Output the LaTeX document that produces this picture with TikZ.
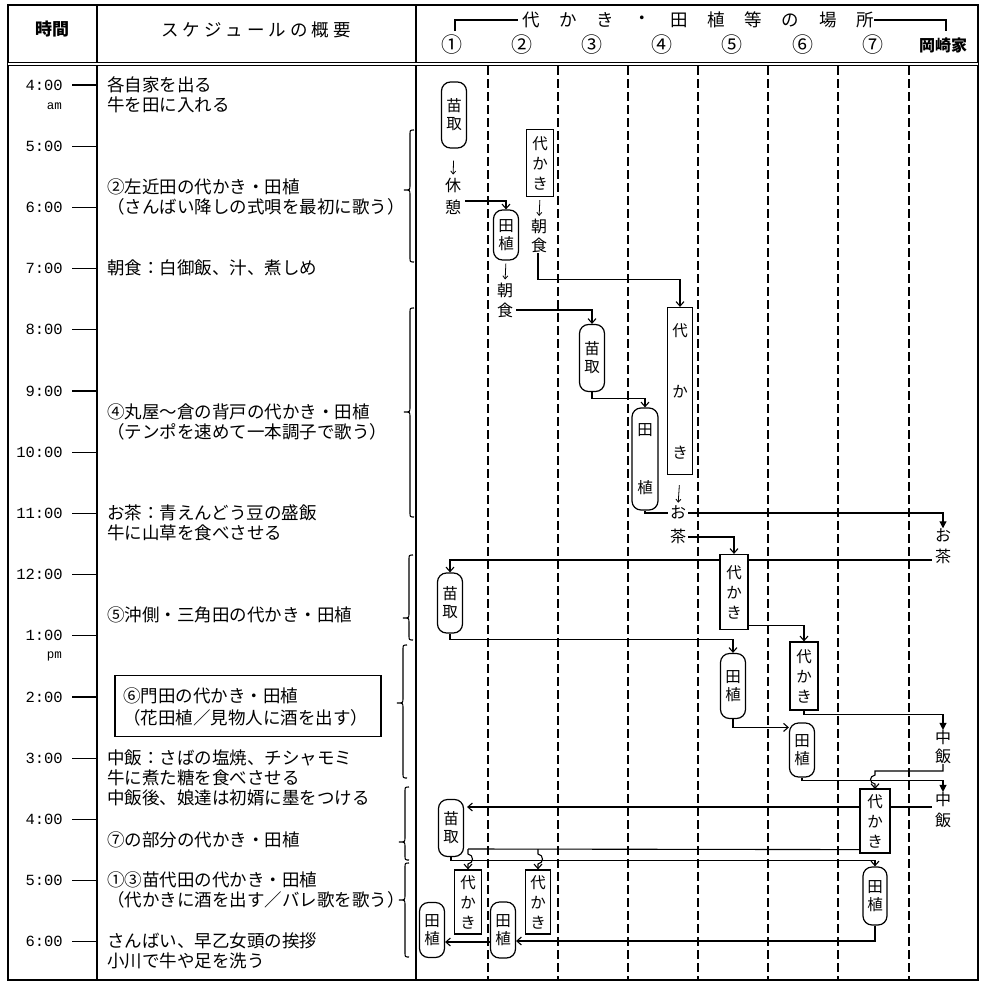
\documentclass[tikz,border=0pt]{standalone}
\usepackage{fontspec}
\setmainfont{Noto Sans CJK JP}
\newfontfamily\tmfont{Liberation Mono}
\usetikzlibrary{arrows.meta}
\newcommand\mybrace[4]{\draw[line width=1.1pt] (#1+4,#2) .. controls (#1,#2) and (#1,#2) .. (#1,#2+5) -- (#1,#3-5) .. controls (#1,#3) and (#1,#3) .. (#1-6,#3) .. controls (#1,#3) and (#1,#3) .. (#1,#3+5) -- (#1,#4-5) .. controls (#1,#4) and (#1,#4) .. (#1+4,#4);}
\begin{document}
\begin{tikzpicture}[x=1pt,y=-1pt,
  every node/.style={inner sep=0pt},
  frame/.style={line width=1.5pt},
  tickline/.style={line width=1.2pt},
  colline/.style={line width=1.6pt, dash pattern=on 9pt off 4pt},
  link/.style={line width=1.1pt},
  arr/.style={link,-{Straight Barb[length=4.5pt,width=8pt]}},
  farr/.style={link,-{Triangle[length=7pt,width=7pt]}},
  sarr/.style={line width=0.8pt,-{Straight Barb[length=3pt,width=5pt]}},
  stxt/.style={anchor=west,font=\fontsize{17.5}{20}\selectfont},
  tlab/.style={anchor=east,font=\tmfont\fontsize{15.5}{15}\selectfont},
  hd/.style={font=\fontsize{17.5}{17}\selectfont},
  capsule/.style={draw,line width=1.2pt,rounded corners=9pt,fill=white,minimum width=25pt,align=center,font=\fontsize{15.5}{18}\selectfont},
  boxn/.style={draw,line width=1.2pt,fill=white,minimum width=27pt,align=center,font=\fontsize{15.5}{20}\selectfont},
  lbl/.style={align=center,font=\fontsize{16}{21}\selectfont},
]
\useasboundingbox (0,0) rectangle (986,983);
% frame
\draw[frame] (8,5) rectangle (978,980);
\draw[frame] (97,5) -- (97,980);
\draw[frame] (416,5) -- (416,980);
\draw[line width=0.8pt, double, double distance=1.6pt] (8,64) -- (978,64);
\foreach \x in {488,558,628,698,768,838,909} \draw[colline] (\x,66) -- (\x,980);
% header
\node[hd,font=\bfseries\fontsize{17}{17}\selectfont] (hjikan) at (52,29) {時間};
\node[hd] (hsched) at (256,30) {ス\kern4pt ケ\kern4pt ジ\kern4pt ュ\kern4pt ー\kern4pt ル\kern4pt の\kern4pt 概\kern4pt 要};
\foreach \c [count=\i from 0] in {代,か,き,・,田,植,等,の,場,所}
  \node[hd] (hc\i) at ({531+37.1*\i},20) {\c};
\draw[link] (455,31) -- (455,20) -- (518,20);
\draw[link] (874,20) -- (946,20) -- (946,31);
\foreach \c [count=\i from 0] in {①,②,③,④,⑤,⑥,⑦}
  \node[font=\fontsize{21}{21}\selectfont] (hn\i) at ({452+70.1*\i},45) {\c};
\node[font=\bfseries\fontsize{16}{16}\selectfont] (hok) at (943,45) {岡崎家};
% times
\foreach \t [count=\i from 0] in {4:00,5:00,6:00,7:00,8:00,9:00,10:00,11:00,12:00,1:00,2:00,3:00,4:00,5:00,6:00} {
  \node[tlab] (t\i) at (63,{85+61.2*\i}) {\t};
  \draw[tickline] ([xshift=9pt]t\i.east) -- (97,{85+61.2*\i});
}
\node[tlab,font=\tmfont\fontsize{12.5}{12}\selectfont] (am) at (62,106) {am};
\node[tlab,font=\tmfont\fontsize{12.5}{12}\selectfont] (pm) at (62,656) {pm};
% schedule
\node[stxt] (s1) at (107,85) {各自家を出る};
\node[stxt] (s2) at (107,105) {牛を田に入れる};
\node[stxt] (s3) at (107,187) {②左近田の代かき・田植};
\node[stxt] (s4) at (107,207) {（さんばい降しの式唄を最初に歌う）};
\node[stxt] (s5) at (107,268) {朝食：白御飯、汁、煮しめ};
\node[stxt] (s6) at (107,412) {④丸屋～倉の背戸の代かき・田植};
\node[stxt] (s7) at (107,432) {（テンポを速めて一本調子で歌う）};
\node[stxt] (s8) at (107,513) {お茶：青えんどう豆の盛飯};
\node[stxt] (s9) at (107,533) {牛に山草を食べさせる};
\node[stxt] (s10) at (107,615) {⑤沖側・三角田の代かき・田植};
\node[draw, line width=1.2pt, minimum width=266pt, minimum height=61pt] (bx) at (248,706) {};
\node[stxt] (s11) at (123,696) {⑥門田の代かき・田植};
\node[stxt] (s12) at (123,718) {（花田植／見物人に酒を出す）};
\node[stxt] (s13) at (107,758) {中飯：さばの塩焼、チシャモミ};
\node[stxt] (s14) at (107,778) {牛に煮た糖を食べさせる};
\node[stxt] (s15) at (107,798) {中飯後、娘達は初婿に墨をつける};
\node[stxt] (s16) at (107,840) {⑦の部分の代かき・田植};
\node[stxt] (s17) at (107,880) {①③苗代田の代かき・田植};
\node[stxt] (s18) at (107,900) {（代かきに酒を出す／バレ歌を歌う）};
\node[stxt] (s19) at (107,941) {さんばい、早乙女頭の挨拶};
\node[stxt] (s20) at (107,961) {小川で牛や足を洗う};
% braces
\mybrace{410}{130}{190}{262}
\mybrace{410}{308}{412}{517}
\mybrace{409}{555}{618}{640}
\mybrace{403}{645}{703}{778}
\mybrace{405}{787}{842}{860}
\mybrace{405}{863}{900}{957}
% chart
\node[capsule, minimum height=66pt] (n1) at (454,115) {苗\\取};
\node[lbl, font=\fontsize{16}{22}\selectfont] (r1) at (453,196) {休\\憩};
\draw[sarr, shorten <=12pt, shorten >=3pt] (n1.south) -- (r1.north);
\node[capsule, minimum height=50pt] (n2) at (506,235) {田\\植};
\draw[arr] ([xshift=4pt,yshift=-5pt]r1.east) -| (n2.north);
\node[lbl, font=\fontsize{16}{20}\selectfont] (r2) at (505,300) {朝\\食};
\draw[sarr, shorten <=3pt, shorten >=3pt] (n2.south) -- (r2.north);
\node[boxn, minimum height=67pt] (n3) at (540,163) {代\\か\\き};
\node[lbl, font=\fontsize{16}{19}\selectfont] (r3) at (539,236) {朝\\食};
\draw[sarr, shorten <=3pt, shorten >=3pt] (n3.south) -- (r3.north);
\node[boxn, minimum height=167pt, minimum width=25pt] (n4) at (680,391) {代\\[41pt]か\\[41pt]き};
\draw[arr] ([xshift=-1pt]r3.south) -- ++(0,26) -| (n4.north);
\node[lbl, font=\fontsize{16}{24}\selectfont] (r4) at (678,525) {お\\茶};
\draw[sarr, shorten <=10pt, shorten >=3pt] (n4.south) -- (r4.north);
\node[capsule, minimum height=67pt] (n5) at (592,358) {苗\\取};
\draw[arr] ([xshift=3pt,yshift=-10pt]r2.east) -| (n5.north);
\node[capsule, minimum height=102pt, minimum width=26pt] (n6) at (645,459) {田\\[40pt]植};
\draw[arr] (n5.south) -- ++(0,6) -| (n6.north);
\draw[link] (n6.south) |- ([xshift=-2pt,yshift=12pt]r4.west);
\node[lbl, font=\fontsize{16}{21}\selectfont] (r5) at (943,546) {お\\茶};
\draw[farr] ([xshift=2pt,yshift=12pt]r4.east) -| (r5.north);
\node[capsule, minimum height=60pt] (n8) at (450,603) {苗\\取};
\draw[arr] ([xshift=-3pt,yshift=-14pt]r5.west) -| (n8.north);
\node[boxn, minimum height=75pt, minimum width=28pt] (n7) at (734,592) {代\\か\\き};
\draw[arr] ([xshift=2pt,yshift=-12pt]r4.east) -| (n7.north);
\node[capsule, minimum height=65pt] (n10) at (733,686) {田\\植};
\draw[arr] (n8.south) -- ++(0,6) -| (n10.north);
\node[boxn, minimum height=68pt, minimum width=28pt] (n11) at (804,676) {代\\か\\き};
\draw[arr] ([yshift=5pt]n7.south east) -| (n11.north);
\node[lbl, font=\fontsize{16}{19}\selectfont] (r6) at (943,747) {中\\飯};
\draw[farr] (n11.south) -- ++(0,4) -| (r6.north);
\node[capsule, minimum height=54pt] (n13) at (802,750) {田\\植};
\draw[arr] (n10.south) |- ([yshift=-5pt]n13.north west);
\node[lbl, font=\fontsize{16}{21}\selectfont] (r7) at (943,810) {中\\飯};
\draw[farr] (n13.south) -- ++(0,3) -| (r7.north);
\node[capsule, minimum height=57pt] (n16) at (451,828) {苗\\取};
\draw[arr] ([xshift=-3pt,yshift=3pt]r7.west) -- ([xshift=3pt,yshift=3pt]n16.east |- r7.west);
\coordinate (j1) at (875,771);
\draw[arr] (r6.south) |- (j1) -- (875,775) .. controls (869,776) and (869,783) .. (875,784) -- (875,789);
\node[boxn, minimum height=64pt, minimum width=30pt] (n14) at (875,821) {代\\か\\き};
\node[boxn, minimum height=64pt, minimum width=27pt] (n17) at (468,902) {代\\か\\き};
\node[boxn, minimum height=64pt, minimum width=25pt] (n18) at (538,902) {代\\か\\き};
\node[capsule, minimum height=58pt, minimum width=24pt] (n19) at (875,896) {田\\植};
\node[capsule, minimum height=55pt] (n20) at (432,930) {田\\植};
\node[capsule, minimum height=56pt] (n21) at (503,930) {田\\植};
\draw[arr] (n16.south) -- ++(0,3) -| (n19.north);
\coordinate (k1) at (468,849);
\coordinate (k2) at (538,849);
\draw[link] ([yshift=4pt]n14.south west) -- (k1);
\draw[arr] (k1) -- (468,854) .. controls (474,855) and (474,863) .. (468,864) -- (n17.north);
\draw[arr] (k2) -- (538,854) .. controls (544,855) and (544,863) .. (538,864) -- (n18.north);
\draw[arr] (n19.south) |- ([yshift=-11pt]n21.east);
\draw[arr] ([yshift=-12pt]n21.west) -- ([yshift=-12pt]n20.east);
\end{tikzpicture}
\end{document}
